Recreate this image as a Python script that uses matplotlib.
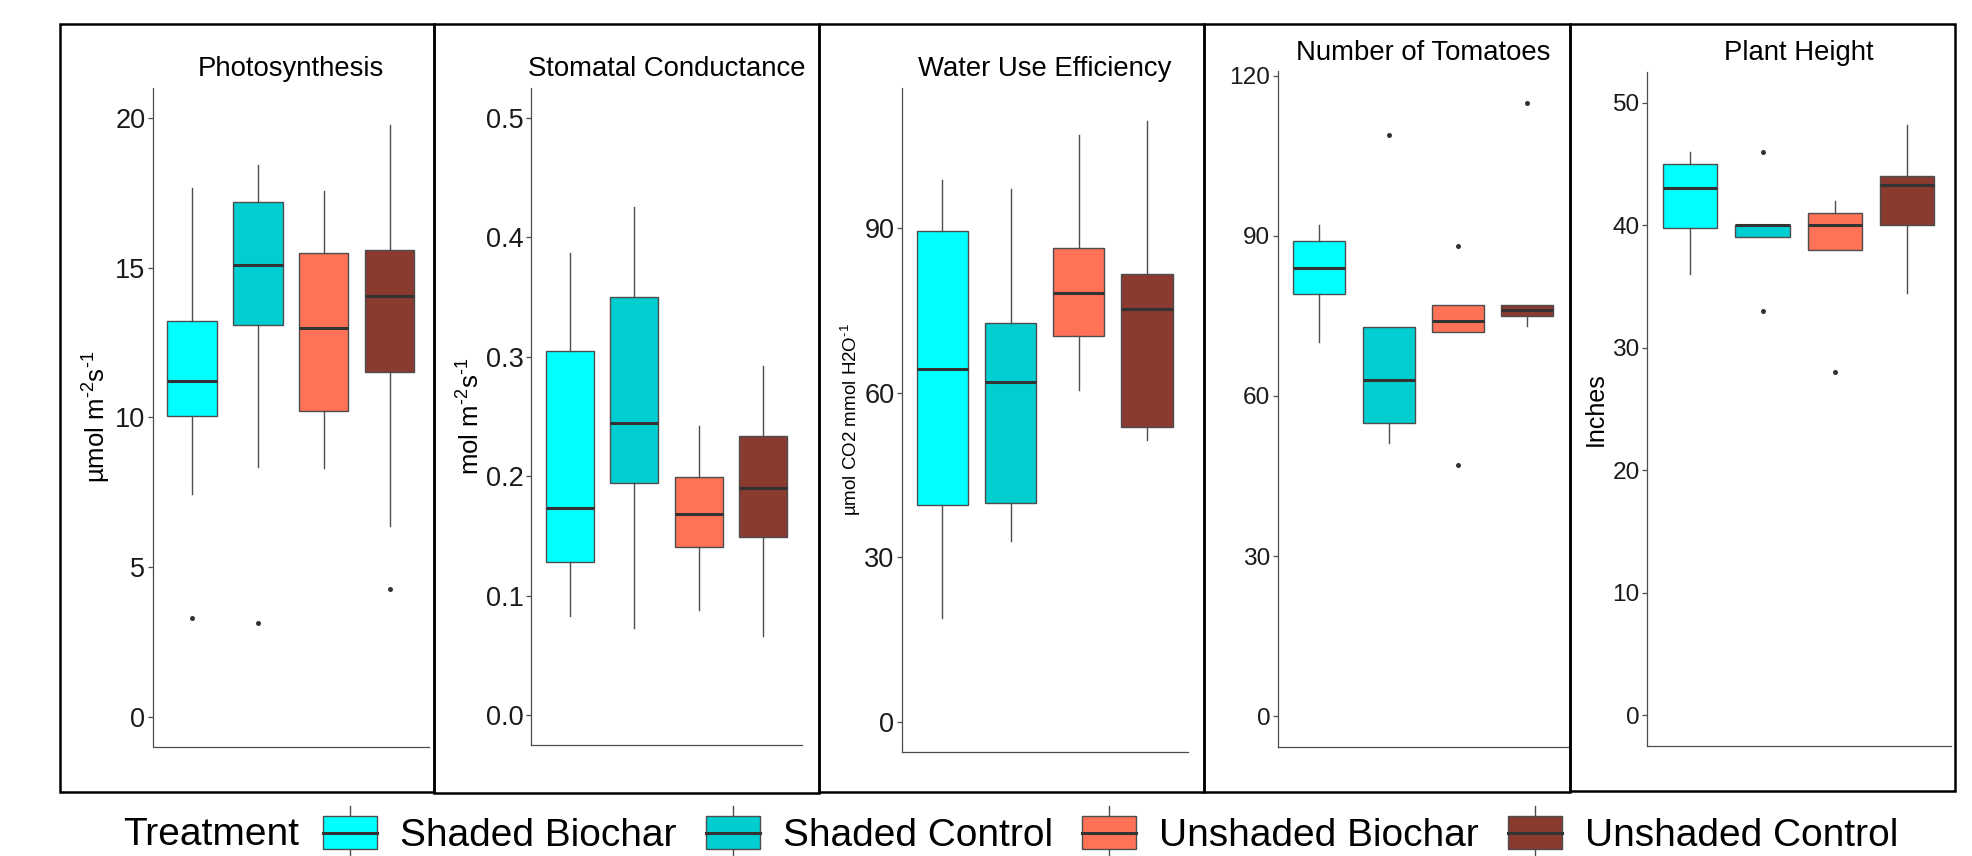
import matplotlib
matplotlib.use("Agg")
import matplotlib.pyplot as plt
from matplotlib.patches import Rectangle, Patch
from matplotlib.lines import Line2D
from matplotlib.legend_handler import HandlerBase

plt.rcParams['font.family'] = ['Liberation Sans', 'DejaVu Sans']
plt.rcParams['mathtext.fontset'] = 'custom'
plt.rcParams['mathtext.rm'] = 'Liberation Sans'
plt.rcParams['mathtext.it'] = 'Liberation Sans:italic'
plt.rcParams['mathtext.bf'] = 'Liberation Sans:bold'
plt.rcParams['mathtext.default'] = 'regular'

# treatments and colours
treatments = ['Shaded Biochar', 'Shaded Control', 'Unshaded Biochar', 'Unshaded Control']
colors = ['#00FFFF', '#00CED1', '#FF7256', '#8B3A2F']

# Photosynthesis (umol m-2 s-1)
photo_whislo = [7.44, 8.33, 8.31, 6.37]
photo_q1 = [10.04, 13.07, 10.21, 11.52]
photo_med = [11.2, 15.09, 12.98, 14.04]
photo_q3 = [13.2, 17.18, 15.48, 15.58]
photo_whishi = [17.65, 18.44, 17.57, 19.78]
photo_fliers = [[3.30], [3.13], [], [4.25]]

# Stomatal conductance (mol m-2 s-1)
cond_whislo = [0.083, 0.073, 0.088, 0.066]
cond_q1 = [0.128, 0.194, 0.141, 0.149]
cond_med = [0.173, 0.2445, 0.1685, 0.190]
cond_q3 = [0.305, 0.350, 0.199, 0.234]
cond_whishi = [0.387, 0.425, 0.242, 0.292]
cond_fliers = [[], [], [], []]

# Water use efficiency
wue_whislo = [19.0, 32.9, 60.6, 51.4]
wue_q1 = [39.6, 40.0, 70.3, 53.8]
wue_med = [64.4, 62.0, 78.2, 75.3]
wue_q3 = [89.6, 72.7, 86.4, 81.6]
wue_whishi = [98.9, 97.2, 107.0, 109.5]
wue_fliers = [[], [], [], []]

# Number of tomatoes
tom_whislo = [70.1, 51.1, 72.0, 73.0]
tom_q1 = [79.0, 55.0, 72.0, 75.0]
tom_med = [84.0, 62.9, 74.0, 76.0]
tom_q3 = [89.0, 72.9, 77.0, 77.0]
tom_whishi = [92.0, 72.9, 77.0, 77.0]
tom_fliers = [[], [108.9], [88.0, 47.1], [114.9]]

# Plant height (inches)
ht_whislo = [36.0, 39.0, 38.0, 34.5]
ht_q1 = [39.75, 39.0, 38.0, 40.0]
ht_med = [43.0, 40.0, 40.0, 43.25]
ht_q3 = [45.0, 40.0, 41.0, 44.0]
ht_whishi = [46.0, 40.0, 42.0, 48.2]
ht_fliers = [[], [46.0, 33.0], [28.0], []]

W, H = 1972, 856


def box_stats(whislo, q1, med, q3, whishi, fliers):
    return [dict(whislo=a, q1=b, med=c, q3=d, whishi=e, fliers=f)
            for a, b, c, d, e, f in zip(whislo, q1, med, q3, whishi, fliers)]


# panel: title, ylabel, ylabel size, stats, ylim, ticks, tick labels, tick size,
#        axes px box (left, top, right, bottom), frame px box, ylabel x px
panels = [
    dict(title='Photosynthesis', ylabel=r'µmol m$^{\text{-}2}$s$^{\text{-}1}$', ylsize=18.5,
         stats=box_stats(photo_whislo, photo_q1, photo_med, photo_q3, photo_whishi, photo_fliers),
         ylim=(-1, 21), ticks=[0, 5, 10, 15, 20], ticklabels=None, ticksize=19.5,
         ax_px=(152.5, 88, 429, 746.5), frame=(60, 24, 434, 792), ylx=97),
    dict(title='Stomatal Conductance', ylabel=r'mol m$^{\text{-}2}$s$^{\text{-}1}$', ylsize=18.5,
         stats=box_stats(cond_whislo, cond_q1, cond_med, cond_q3, cond_whishi, cond_fliers),
         ylim=(-0.025, 0.525), ticks=[0, 0.1, 0.2, 0.3, 0.4, 0.5],
         ticklabels=['0.0', '0.1', '0.2', '0.3', '0.4', '0.5'], ticksize=19.5,
         ax_px=(531, 88, 802, 745), frame=(434, 24, 819, 793), ylx=471),
    dict(title='Water Use Efficiency', ylabel=r'µmol CO2 mmol H2O$^{\text{-}1}$', ylsize=13.5,
         stats=box_stats(wue_whislo, wue_q1, wue_med, wue_q3, wue_whishi, wue_fliers),
         ylim=(-5.5, 115.6), ticks=[0, 30, 60, 90], ticklabels=None, ticksize=19.5,
         ax_px=(901.5, 88, 1188, 752), frame=(819, 24, 1204, 792), ylx=851),
    dict(title='Number of Tomatoes', ylabel=None, ylsize=18,
         stats=box_stats(tom_whislo, tom_q1, tom_med, tom_q3, tom_whishi, tom_fliers),
         ylim=(-5.75, 120.75), ticks=[0, 30, 60, 90, 120], ticklabels=None, ticksize=17.6,
         ax_px=(1277.5, 71.5, 1569, 747), frame=(1204, 24, 1570, 792), ylx=None),
    dict(title='Plant Height', ylabel='Inches', ylsize=18,
         stats=box_stats(ht_whislo, ht_q1, ht_med, ht_q3, ht_whishi, ht_fliers),
         ylim=(-2.5, 52.5), ticks=[0, 10, 20, 30, 40, 50], ticklabels=None, ticksize=17.6,
         ax_px=(1646.7, 72, 1950.7, 746), frame=(1570, 24, 1955, 791), ylx=1595.5),
]

fig = plt.figure(figsize=(W / 100, H / 100), dpi=100)

for p in panels:
    l, t, r, b = p['ax_px']
    ax = fig.add_axes([l / W, 1 - b / H, (r - l) / W, (b - t) / H])
    parts = ax.bxp(p['stats'], positions=[1, 2, 3, 4], widths=0.75, patch_artist=True,
                   showcaps=False,
                   boxprops=dict(edgecolor='#4d4d4d', linewidth=1.0),
                   medianprops=dict(color='#333333', linewidth=2.2, solid_capstyle='butt'),
                   whiskerprops=dict(color='#4d4d4d', linewidth=1.0),
                   flierprops=dict(marker='o', markersize=3.6, markerfacecolor='#333333',
                                   markeredgecolor='none'))
    for patch, c in zip(parts['boxes'], colors):
        patch.set_facecolor(c)
    ax.set_xlim(0.4, 4.6)
    ax.set_ylim(*p['ylim'])
    ax.set_yticks(p['ticks'])
    if p['ticklabels']:
        ax.set_yticklabels(p['ticklabels'])
    ax.set_xticks([])
    ax.tick_params(axis='y', labelsize=p['ticksize'], length=3.6, width=0.9,
                   color='#4d4d4d', pad=1.5, labelcolor='#1a1a1a')
    for side in ('top', 'right'):
        ax.spines[side].set_visible(False)
    for side in ('left', 'bottom'):
        ax.spines[side].set_color('#4d4d4d')
        ax.spines[side].set_linewidth(0.9)
    ax.set_title(p['title'], fontsize=19.8, pad=8.5)
    if p['ylabel']:
        ax.set_ylabel(p['ylabel'], fontsize=p['ylsize'], va='center')
        ax.yaxis.set_label_coords((p['ylx'] - l) / (r - l), 0.5)

    fl, ft, fr, fb = p['frame']
    fig.patches.append(Rectangle((fl / W, 1 - fb / H), (fr - fl) / W, (fb - ft) / H,
                                 transform=fig.transFigure, fill=False,
                                 edgecolor='black', linewidth=1.8))


class BoxKey(HandlerBase):
    def create_artists(self, legend, orig_handle, xdescent, ydescent, width, height,
                       fontsize, trans):
        x0, y0 = -xdescent, -ydescent
        xm = x0 + width / 2
        box = Rectangle((x0, y0), width, height, facecolor=orig_handle.get_facecolor(),
                        edgecolor='#4d4d4d', linewidth=1.0, transform=trans)
        med = Line2D([x0, x0 + width], [y0 + height / 2] * 2, color='#333333',
                     linewidth=2.2, transform=trans)
        top = Line2D([xm, xm], [y0 + height, y0 + height * 1.3], color='#4d4d4d',
                     linewidth=1.0, transform=trans)
        bot = Line2D([xm, xm], [y0, y0 - height * 0.3], color='#4d4d4d',
                     linewidth=1.0, transform=trans)
        return [top, bot, box, med]


handles = [Patch(facecolor=c, edgecolor='#4d4d4d') for c in colors]
leg_y = 1 - 835 / H
fig.legend(handles, treatments, handler_map={Patch: BoxKey()}, loc='center left',
           bbox_to_anchor=(323 / W, leg_y), ncol=4, frameon=False, fontsize=28,
           handlelength=1.39, handleheight=0.93, handletextpad=0.59,
           columnspacing=0.75, borderpad=0, borderaxespad=0)
fig.text(123 / W, leg_y, 'Treatment', fontsize=28, ha='left', va='center')

fig.savefig('out.png', dpi=100)
